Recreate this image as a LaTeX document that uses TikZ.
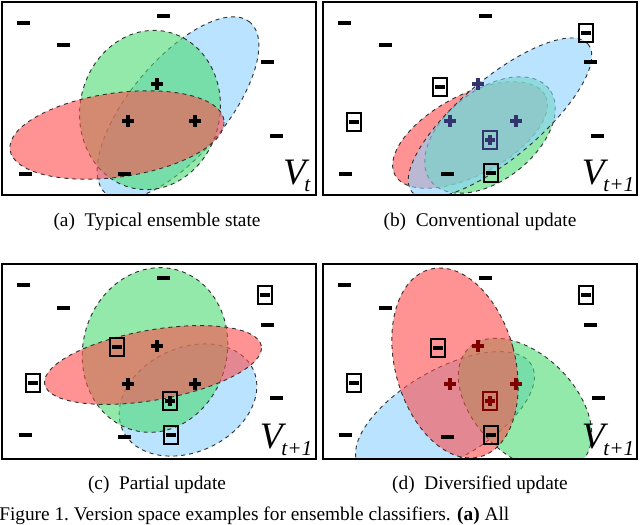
\documentclass[tikz,border=0pt]{standalone}
\usepackage{fontspec}
\setmainfont{Liberation Serif}
\begin{document}
\begin{tikzpicture}[x=0.75pt,y=0.75pt,
  frame/.style={draw=black,line width=1.2pt},
  ell/.style={draw=black!80,dashed,line width=0.7pt,fill opacity=0.6},
  redE/.style={ell,fill=red!70},
  greenE/.style={ell,fill=green!60!teal!70},
  blueE/.style={ell,fill=blue!40!cyan!45},
  mn/.pic={\fill[#1] (-6.5,-2) rectangle (6.5,2);},
  pl/.pic={\fill[#1] (-6,-1.8) rectangle (6,1.8); \fill[#1] (-1.8,-6) rectangle (1.8,6);},
  bmn/.pic={\fill (-5,-1.8) rectangle (5,1.8); \draw[line width=0.8pt] (-7,-9) rectangle (7,9);},
  bpl/.pic={\fill[#1] (-5,-1.6) rectangle (5,1.6); \fill[#1] (-1.6,-5) rectangle (1.6,5); \draw[#1,line width=0.8pt] (-7,-9) rectangle (7,9);},
  captxt/.style={font=\fontsize{14.5}{16}\selectfont},
  vl/.style={font=\fontsize{28}{30}\selectfont\itshape,anchor=south east,inner sep=1pt}]
\useasboundingbox (0,0) rectangle (640,-525);
\fill[white] (0,0) rectangle (640,-525);
\newcommand\vlab[1]{V\kern-1pt\raisebox{-5pt}{\fontsize{16}{16}\selectfont #1}}
% ---------- (a)
\begin{scope}
\clip (2,-2) rectangle (316,-195);
\draw[blueE,shift={(178,-108)},rotate=50] (0,0) ellipse[x radius=112,y radius=48];
\draw[greenE,shift={(150,-110)},rotate=-12] (0,0) ellipse[x radius=70,y radius=80];
\draw[redE,shift={(117,-135)},rotate=8] (0,0) ellipse[x radius=108,y radius=42];
\end{scope}
\node[frame,minimum width=314*0.75pt,minimum height=193*0.75pt,inner sep=0] (fa) at (159,-98.5) {};
\foreach \p in {(23,-23),(63,-45),(163,-16),(267,-62),(276,-136),(25,-174),(124,-174)} \pic at \p {mn={black}};
\foreach \p in {(157,-84),(128,-121),(195,-121)} \pic at \p {pl={black}};
\node[vl] (va) at (312,-193) {\vlab{t}};
\node[captxt] (ca) at (157,-222) {(a)\ \ Typical ensemble state};
% ---------- (b)
\begin{scope}
\clip (323,-2) rectangle (637,-195);
\draw[redE,shift={(470,-135)},rotate=28] (0,0) ellipse[x radius=85,y radius=40];
\draw[greenE,shift={(490,-135)},rotate=38] (0,0) ellipse[x radius=75,y radius=45];
\draw[blueE,shift={(500,-118)},rotate=40] (0,0) ellipse[x radius=115,y radius=40];
\end{scope}
\node[frame,minimum width=314*0.75pt,minimum height=193*0.75pt,inner sep=0] (fb) at (480,-98.5) {};
\foreach \p in {(344,-23),(385,-45),(485,-16),(590,-62),(597,-136),(345,-174),(447,-174)} \pic at \p {mn={black}};
\foreach \p in {(586,-33),(440,-87),(354,-122),(491,-173)} \pic at \p {bmn};
\foreach \p in {(478,-84),(450,-121),(516,-121)} \pic at \p {pl={black!60!blue!60!gray}};
\pic at (490,-140) {bpl={black!60!blue!60!gray}};
\node[vl] (vb) at (636,-193) {\vlab{t+1}};
\node[captxt] (cb) at (480,-222) {(b)\ \ Conventional update};
% ---------- (c)
\begin{scope}
\clip (2,-264) rectangle (316,-459);
\draw[blueE,shift={(188,-400)},rotate=25] (0,0) ellipse[x radius=72,y radius=52];
\draw[greenE,shift={(155,-350)},rotate=-15] (0,0) ellipse[x radius=72,y radius=83];
\draw[redE,shift={(153,-365)},rotate=10] (0,0) ellipse[x radius=110,y radius=35];
\end{scope}
\node[frame,minimum width=314*0.75pt,minimum height=195*0.75pt,inner sep=0] (fc) at (159,-361.5) {};
\foreach \p in {(23,-285),(63,-308),(163,-278),(267,-325),(276,-398),(25,-435),(124,-437)} \pic at \p {mn={black}};
\foreach \p in {(265,-295),(117,-347),(33,-383),(171,-435)} \pic at \p {bmn};
\foreach \p in {(157,-346),(128,-384),(195,-384)} \pic at \p {pl={black}};
\pic at (170,-401) {bpl={black}};
\node[vl] (vc) at (314,-457) {\vlab{t+1}};
\node[captxt] (cc) at (157,-485) {(c)\ \ Partial update};
% ---------- (d)
\begin{scope}
\clip (323,-264) rectangle (637,-459);
\draw[blueE,shift={(445,-415)},rotate=30] (0,0) ellipse[x radius=100,y radius=45];
\draw[greenE,shift={(525,-405)},rotate=-45] (0,0) ellipse[x radius=80,y radius=50];
\draw[redE,shift={(455,-363)},rotate=15] (0,0) ellipse[x radius=60,y radius=97];
\end{scope}
\node[frame,minimum width=314*0.75pt,minimum height=195*0.75pt,inner sep=0] (fd) at (480,-361.5) {};
\foreach \p in {(344,-285),(385,-308),(485,-278),(590,-325),(598,-398),(345,-435),(447,-437)} \pic at \p {mn={black}};
\foreach \p in {(586,-295),(438,-348),(354,-383),(491,-435)} \pic at \p {bmn};
\foreach \p in {(478,-346),(450,-384),(516,-384)} \pic at \p {pl={red!50!black}};
\pic at (490,-401) {bpl={red!50!black}};
\node[vl] (vd) at (636,-457) {\vlab{t+1}};
\node[captxt] (cd) at (480,-485) {(d)\ \ Diversified update};
% ---------- figure caption
\node[captxt,anchor=west,inner sep=0] (fig) at (-1,-516) {Figure 1.\ Version space examples for ensemble classifiers. \textbf{(a)} All};
\end{tikzpicture}
\end{document}
